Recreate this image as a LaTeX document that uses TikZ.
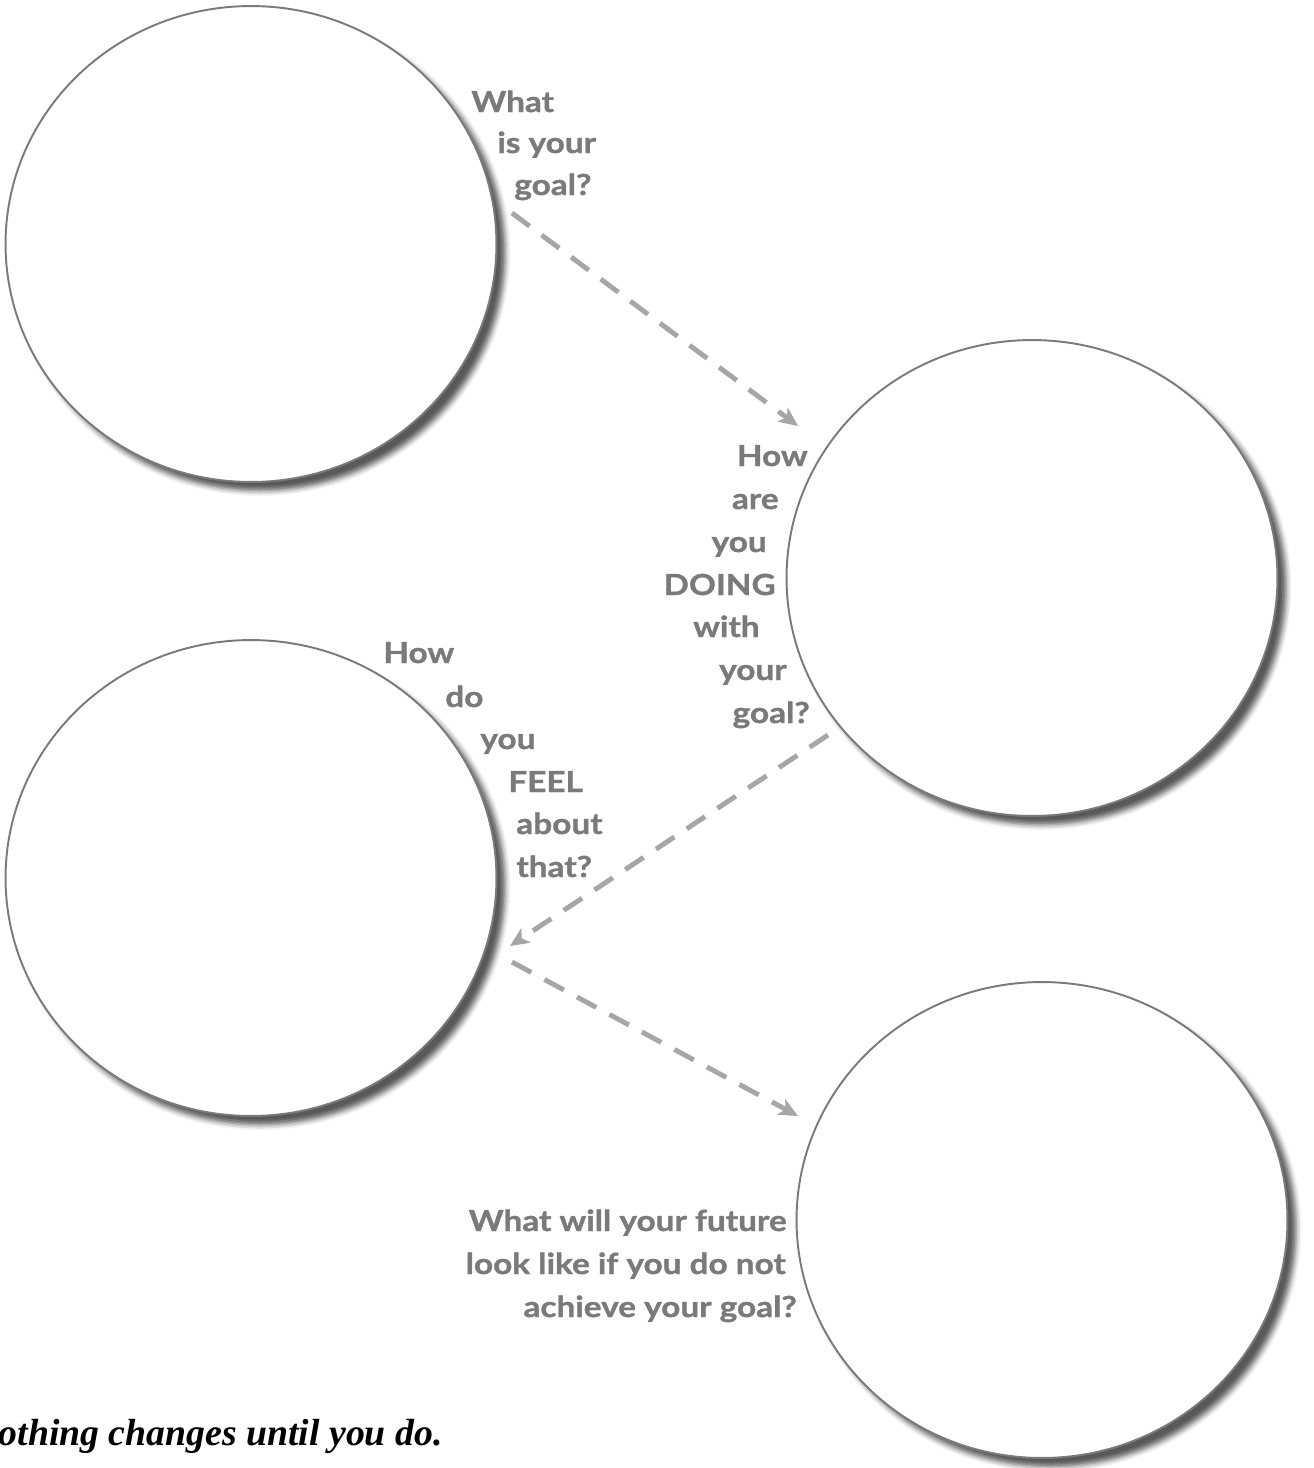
\documentclass[tikz,border=0pt]{standalone}
\usepackage{fontspec}
\setmainfont{Lato}
\newfontfamily\askfont[FakeStretch=1.15, BoldFeatures={FakeBold=1.2}]{Lato}
\newfontfamily\mottofont{Liberation Serif}
\usetikzlibrary{arrows.meta,shapes.geometric,shadows.blur}

\definecolor{ringgray}{HTML}{7A7A7A}
\definecolor{askgray}{HTML}{7A7A7A}
\definecolor{dashgray}{HTML}{A6A6A6}

\begin{document}
\begin{tikzpicture}[x=0.02cm, y=-0.02cm]
  % styles
  \tikzset{
    ring/.style={ellipse, draw=ringgray, line width=1.1pt, fill=white,
      minimum width=9.82cm, minimum height=9.52cm, inner sep=0pt,
      blur shadow={shadow xshift=5pt, shadow yshift=-5pt,
        shadow blur radius=3pt, shadow opacity=65}},
    ask/.style={font=\askfont\fontsize{16.5}{20}\selectfont\bfseries,
      text=askgray, inner sep=0pt},
    flow/.style={dashgray, line width=2.8pt, dash pattern=on 12.5pt off 8.5pt,
      -{Stealth[length=11pt, width=10pt, inset=3pt, line width=0.5pt]}}
  }

  \useasboundingbox (0,0) rectangle (1314,1468);

  % the four circles
  \node[ring] (goal)   at (251,244)  {};
  \node[ring] (doing)  at (1032,578) {};
  \node[ring] (feel)   at (251,878)  {};
  \node[ring] (future) at (1042,1220) {};

  % questions, line by line along the rims
  \foreach \px/\py/\word [count=\i] in {471/112/What, 497/153/is your, 514/195/goal?}
    \node[ask, anchor=base west] (goal-q\i) at (\px,\py) {\word};

  \foreach \px/\py/\word [count=\i] in {808/466/How, 779/509/are, 767/552/you,
      776/595/DOING, 760/637/with, 787/680/your, 810/723/goal?}
    \node[ask, anchor=base east] (doing-q\i) at (\px,\py) {\word};

  \foreach \px/\py/\word [count=\i] in {383/663/How, 445/707/do, 480/749/you,
      508/792/FEEL, 516/834/about, 516/877/that?}
    \node[ask, anchor=base west] (feel-q\i) at (\px,\py) {\word};

  \foreach \px/\py/\word [count=\i] in {787/1231/What will your future,
      786/1274/look like if you do not, 797/1317/achieve your goal?}
    \node[ask, anchor=base east] (future-q\i) at (\px,\py) {\word};

  % dashed arrows between the circles
  \coordinate (f1a) at (512,213);
  \coordinate (f1b) at (798,426);
  \coordinate (f2a) at (828,735);
  \coordinate (f2b) at (510,946);
  \coordinate (f3a) at (512,962);
  \coordinate (f3b) at (798,1116);
  \draw[flow] (f1a) -- (f1b);
  \draw[flow] (f2a) -- (f2b);
  \draw[flow] (f3a) -- (f3b);

  % motto
  \node[font=\mottofont\fontsize{21.5}{26}\selectfont\bfseries\itshape,
    anchor=base east, inner sep=0pt] (motto) at (443,1445)
    {Nothing changes until you do.};
\end{tikzpicture}
\end{document}
